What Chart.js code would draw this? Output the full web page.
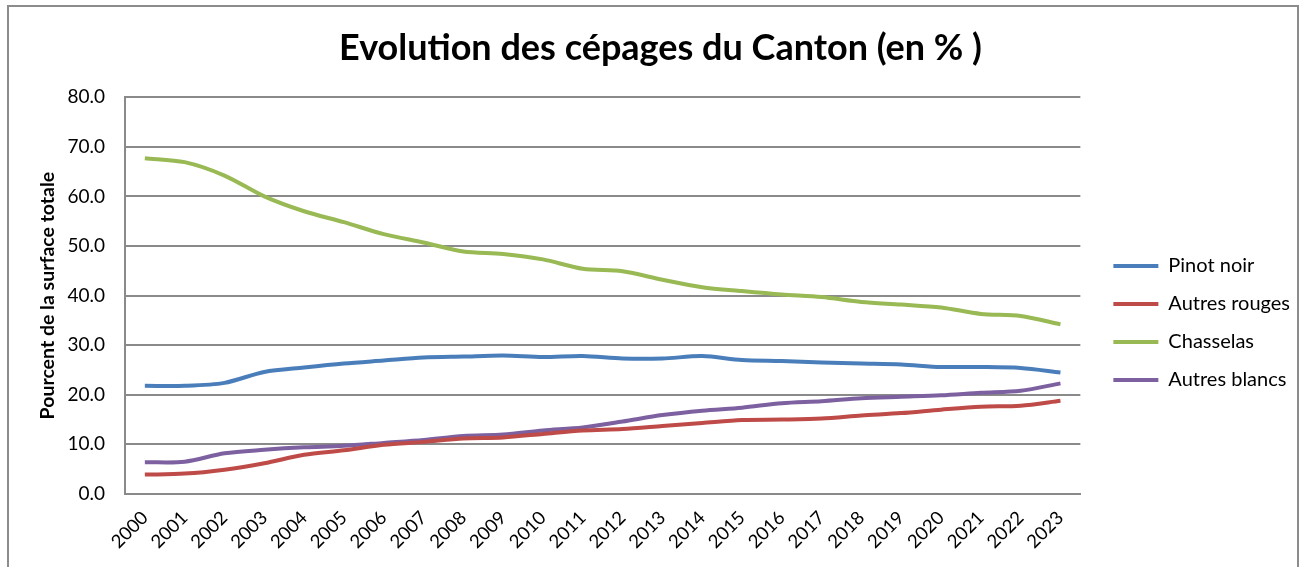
<!DOCTYPE html>
<html lang="fr">
<head>
<meta charset="utf-8">
<title>Evolution des cépages du Canton</title>
<script src="https://cdn.jsdelivr.net/npm/chart.js@4.4.1/dist/chart.umd.min.js"></script>
<style>
  html, body { margin: 0; padding: 0; background: #fff; }
  #wrap { position: relative; width: 1303px; height: 567px; overflow: hidden; }
  #frame { position: absolute; left: 7px; top: 5px; width: 1292px; height: 580px; border: 2px solid #8c8c8c; box-sizing: border-box; }
  canvas { position: absolute; left: 0; top: 0; }
</style>
</head>
<body>
<div id="wrap">
  <div id="frame"></div>
  <canvas id="chart" width="1303" height="567"></canvas>
</div>
<script>
const years = ["2000","2001","2002","2003","2004","2005","2006","2007","2008","2009","2010","2011",
               "2012","2013","2014","2015","2016","2017","2018","2019","2020","2021","2022","2023"];

const pinotNoir    = [21.8, 21.8, 22.4, 24.6, 25.5, 26.3, 26.9, 27.5, 27.7, 27.9, 27.6, 27.8,
                      27.3, 27.3, 27.8, 27.0, 26.8, 26.5, 26.3, 26.1, 25.6, 25.6, 25.4, 24.5];
const autresRouges = [3.9, 4.1, 4.9, 6.2, 7.9, 8.8, 9.9, 10.5, 11.2, 11.4, 12.1, 12.8,
                      13.1, 13.7, 14.3, 14.9, 15.0, 15.2, 15.8, 16.3, 17.0, 17.6, 17.8, 18.8];
const chasselas    = [67.7, 66.9, 64.2, 60.0, 57.0, 54.8, 52.4, 50.7, 48.9, 48.4, 47.3, 45.4,
                      44.9, 43.2, 41.7, 40.9, 40.2, 39.7, 38.7, 38.2, 37.6, 36.3, 35.9, 34.2];
const autresBlancs = [6.4, 6.5, 8.2, 8.9, 9.4, 9.7, 10.3, 10.9, 11.7, 12.0, 12.8, 13.4,
                      14.6, 15.9, 16.8, 17.4, 18.3, 18.7, 19.3, 19.6, 19.9, 20.4, 20.8, 22.3];

const seriesNames  = ["Pinot noir", "Autres rouges", "Chasselas", "Autres blancs"];
const seriesColors = ["#4a7ebb", "#be4b48", "#98b954", "#7d60a0"];
const seriesData   = [pinotNoir, autresRouges, chasselas, autresBlancs];

const FONT = "Lato, 'Liberation Sans', sans-serif";
const gridGrey = "#8a8a8a";

const datasets = seriesNames.map((name, i) => ({
  label: name,
  data: seriesData[i],
  borderColor: seriesColors[i],
  backgroundColor: seriesColors[i],
  borderWidth: 4,
  pointRadius: 0,
  tension: 0.3,
  fill: false
}));

// nudge the legend to the right, like the Excel original
const legendShift = {
  id: "legendShift",
  afterLayout(chart) {
    chart.legend.left += 15;
    chart.legend.right += 15;
  }
};

new Chart(document.getElementById("chart"), {
  type: "line",
  data: { labels: years, datasets },
  plugins: [legendShift],
  options: {
    responsive: false,
    animation: false,
    layout: { padding: { left: 36, right: 18, top: 0, bottom: 9 } },
    plugins: {
      title: {
        display: true,
        text: "Evolution des cépages du Canton (en % )",
        color: "#000",
        font: { family: FONT, size: 36, weight: "bold" },
        padding: { top: 27, bottom: 27 }
      },
      legend: {
        position: "right",
        align: "start",
        // blank title only used to push the entries down
        title: { display: true, text: " ", font: { size: 10 }, padding: { top: 226, bottom: 0 } },
        labels: {
          color: "#000",
          font: { family: FONT, size: 20 },
          usePointStyle: true,
          pointStyle: "line",
          pointStyleWidth: 45,
          padding: 18
        }
      },
      tooltip: { enabled: false }
    },
    scales: {
      x: {
        offset: true,
        grid: { display: false },
        border: { color: gridGrey, width: 2 },
        ticks: {
          color: "#000",
          font: { family: FONT, size: 18.5 },
          maxRotation: 45,
          minRotation: 45,
          autoSkip: false,
          padding: 5
        }
      },
      y: {
        min: 0,
        max: 80,
        grid: { color: gridGrey, lineWidth: 2, drawTicks: false },
        border: { color: gridGrey, width: 2 },
        ticks: {
          stepSize: 10,
          color: "#000",
          font: { family: FONT, size: 19 },
          padding: 20,
          callback: v => v.toFixed(1)
        },
        title: {
          display: true,
          text: "Pourcent de la surface totale",
          color: "#000",
          font: { family: FONT, size: 19.5, weight: "bold" },
          padding: { top: 0, bottom: 6 }
        },
        afterFit: scale => { scale.width -= 18; }
      }
    }
  }
});
</script>
</body>
</html>
